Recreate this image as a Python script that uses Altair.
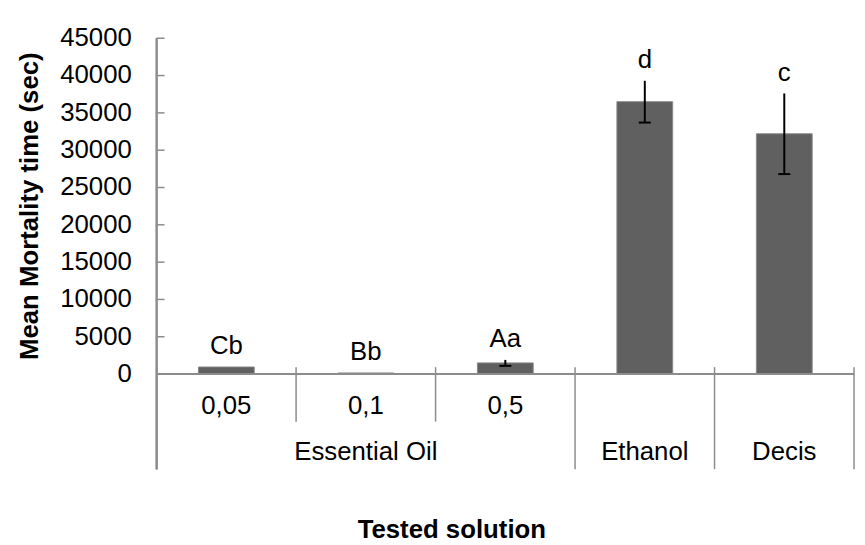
import altair as alt
import pandas as pd

# ---- data ----
categories = ["0,05", "0,1", "0,5", "Ethanol", "Decis"]
sub_labels = ["0,05", "0,1", "0,5", "", ""]
groups = ["Essential Oil", "Essential Oil", "Essential Oil", "Ethanol", "Decis"]
means = [950, 150, 1500, 36500, 32200]
errors = [0, 0, 400, 2800, 5400]
letters = ["Cb", "Bb", "Aa", "d", "c"]
y_ticks = [0, 5000, 10000, 15000, 20000, 25000, 30000, 35000, 40000, 45000]

FONT = "Liberation Sans"
AXIS_COLOR = "#8c8c8c"
BAR_COLOR = "#606060"
W, H = 704, 339

n = len(categories)
df = pd.DataFrame({
    "cat": categories, "sub": sub_labels, "grp": groups,
    "mean": means, "err": errors, "letter": letters,
})
df["idx"] = range(n)
df["x0"] = df["idx"] - 0.2
df["x1"] = df["idx"] + 0.2
df["base"] = 0
df["lo"] = df["mean"] - df["err"]
df["hi"] = df["mean"] + df["err"]
df["top"] = df["hi"]
df["cap0"] = df["idx"] - 0.043
df["cap1"] = df["idx"] + 0.043

err_df = df[df["err"] > 0]

# group label positions
grp_df = df.groupby("grp", sort=False)["idx"].mean().reset_index()

# separators between categories
sep_rows = [{"pos": -0.5, "long": True}]
for i in range(n - 1):
    sep_rows.append({"pos": i + 0.5, "long": groups[i] != groups[i + 1]})
sep_rows.append({"pos": n - 0.5, "long": True})
sep_df = pd.DataFrame(sep_rows)
short_sep = sep_df[~sep_df["long"]]
long_sep = sep_df[sep_df["long"]]

xscale = alt.Scale(domain=[-0.5, n - 0.5], nice=False, zero=False)
yscale = alt.Scale(domain=[0, 45000], nice=False)


def X(field):
    return alt.X(field, scale=xscale, axis=None)


def Y(field):
    return alt.Y(field, scale=yscale, axis=None)


base = alt.Chart(df)

bars = base.mark_bar(color=BAR_COLOR, stroke="#8a8a8a", strokeWidth=1).encode(
    x=X("x0:Q"), x2="x1:Q", y=Y("base:Q"), y2="mean:Q",
)

err_rule = alt.Chart(err_df).mark_rule(color="black", strokeWidth=2).encode(
    x=X("idx:Q"), y=Y("lo:Q"), y2="hi:Q"
)
err_cap = alt.Chart(err_df).mark_rule(color="black", strokeWidth=2).encode(
    x=X("cap0:Q"), x2="cap1:Q", y=Y("lo:Q")
)

letter_text = base.mark_text(font=FONT, fontSize=26, color="black",
                             baseline="alphabetic", dy=-13).encode(
    x=X("idx:Q"), y=Y("top:Q"), text="letter:N"
)

# y axis line (extends below through category labels)
yline = alt.Chart(df).mark_rule(color=AXIS_COLOR, strokeWidth=1.5).encode(
    x=alt.value(0), y=alt.value(0), y2=alt.value(435)
)
# inside y ticks and their labels
tick_df = pd.DataFrame({"v": y_ticks})
tick_df["lab"] = tick_df["v"].astype(str)
yticks = alt.Chart(tick_df).mark_rule(color=AXIS_COLOR, strokeWidth=1.5).encode(
    x=alt.value(0), x2=alt.value(8), y=Y("v:Q")
)
ylabels = alt.Chart(tick_df).mark_text(font=FONT, fontSize=26, color="black",
                                       align="right", baseline="middle").encode(
    x=alt.value(-25), y=Y("v:Q"), text="lab:N"
)
# x axis line at zero
xline = alt.Chart(df).mark_rule(color=AXIS_COLOR, strokeWidth=1.5).encode(
    x=alt.value(0), x2=alt.value(W), y=alt.value(H)
)
short_rules = alt.Chart(short_sep).mark_rule(color=AXIS_COLOR, strokeWidth=1.5).encode(
    x=X("pos:Q"), y=alt.value(H - 7), y2=alt.value(387)
)
long_rules = alt.Chart(long_sep).mark_rule(color=AXIS_COLOR, strokeWidth=1.5).encode(
    x=X("pos:Q"), y=alt.value(H - 7), y2=alt.value(435)
)

sub_text = base.mark_text(font=FONT, fontSize=26, color="black", baseline="middle").encode(
    x=X("idx:Q"), y=alt.value(371), text="sub:N"
)
grp_text = alt.Chart(grp_df).mark_text(font=FONT, fontSize=26, color="black",
                                       baseline="middle").encode(
    x=X("idx:Q"), y=alt.value(418), text="grp:N"
)

title_df = pd.DataFrame({"t": ["Tested solution"], "yt": ["Mean Mortality time (sec)"]})
x_title = alt.Chart(title_df).mark_text(font=FONT, fontSize=26, fontWeight="bold",
                                        color="black", baseline="middle").encode(
    x=alt.value(298), y=alt.value(496), text="t:N"
)
y_title = alt.Chart(title_df).mark_text(font=FONT, fontSize=26, fontWeight="bold",
                                        color="black", baseline="middle", angle=270).encode(
    x=alt.value(-128), y=alt.value(H / 2), text="yt:N"
)

chart = alt.layer(
    bars, err_rule, err_cap, letter_text, yline, yticks, ylabels, xline,
    short_rules, long_rules, sub_text, grp_text, x_title, y_title,
).properties(
    width=W, height=H,
    autosize=alt.AutoSizeParams(type="none"),
    padding={"left": 150, "top": 28, "right": 3, "bottom": 170},
    background="white",
).configure_view(stroke=None)

chart.save("out.html", embed_options={"renderer": "svg", "actions": False})
